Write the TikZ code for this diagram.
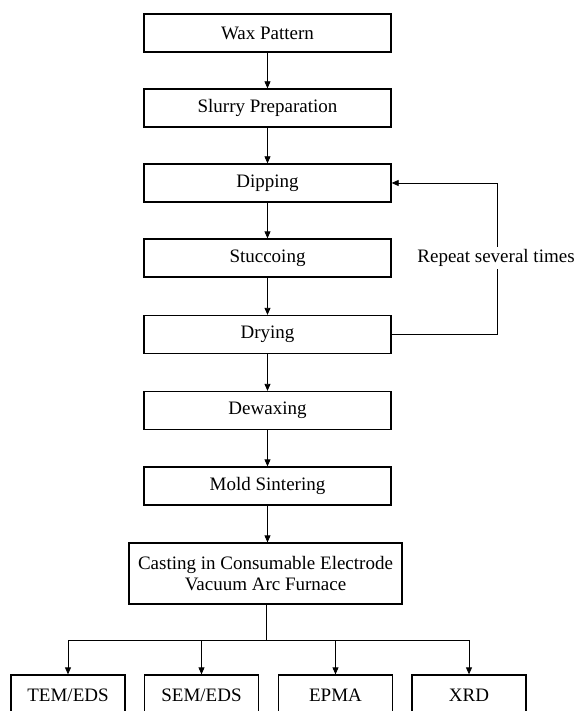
\documentclass[tikz,border=0pt]{standalone}
\usepackage{fontspec}
\setmainfont{Liberation Serif}
\usetikzlibrary{arrows.meta}
\tikzset{
  box/.style={draw, line width=1.3pt, minimum width=247pt, minimum height=38pt, inner sep=0pt, font=\fontsize{19}{21}\selectfont, align=center},
  arr/.style={line width=0.8pt, -{Triangle[length=7pt,width=6pt]}},
  ln/.style={line width=0.8pt}
}
\begin{document}
\begin{tikzpicture}[x=1pt,y=-1pt]
\useasboundingbox (0,0) rectangle (574,711);
\clip (0,0) rectangle (574,711);
\node[box] (wax) at (267.5,33) {Wax Pattern};
\node[box] (slurry) at (267.5,108) {Slurry Preparation};
\node[box] (dip) at (267.5,183) {Dipping};
\node[box] (stucco) at (267.5,258) {Stuccoing};
\node[box] (dry) at (267.5,334.5) {Drying};
\node[box] (dewax) at (267.5,410.5) {Dewaxing};
\node[box] (mold) at (267.5,486) {Mold Sintering};
\node[box, minimum width=273pt, minimum height=61pt] (cast) at (265.5,573.5) {Casting in Consumable Electrode\\Vacuum Arc Furnace};
\node[box, minimum width=114pt, minimum height=40pt] (tem) at (68,695) {TEM/EDS};
\node[box, minimum width=114pt, minimum height=40pt] (sem) at (201.5,695) {SEM/EDS};
\node[box, minimum width=114pt, minimum height=40pt] (epma) at (335.5,695) {EPMA};
\node[box, minimum width=114pt, minimum height=40pt] (xrd) at (469,695) {XRD};
\coordinate (bar) at (266,640);
\draw[arr] (wax) -- (slurry);
\draw[arr] (slurry) -- (dip);
\draw[arr] (dip) -- (stucco);
\draw[arr] (stucco) -- (dry);
\draw[arr] (dry) -- (dewax);
\draw[arr] (dewax) -- (mold);
\draw[arr] (mold.south) -- (mold.south |- cast.north);
\draw[ln] (cast.south -| bar) -- (bar);
\draw[arr] (bar) -| (tem.north);
\draw[arr] (bar) -| (sem.north);
\draw[arr] (bar) -| (epma.north);
\draw[arr] (bar) -| (xrd.north);
\coordinate (fb) at (497,334.5);
\draw[arr] (dry.east) -- (fb) |- (dip.east);
\node[fill=white, inner sep=2pt, font=\fontsize{19}{21}\selectfont] (rep) at (496,258) {Repeat several times};
\end{tikzpicture}
\end{document}
